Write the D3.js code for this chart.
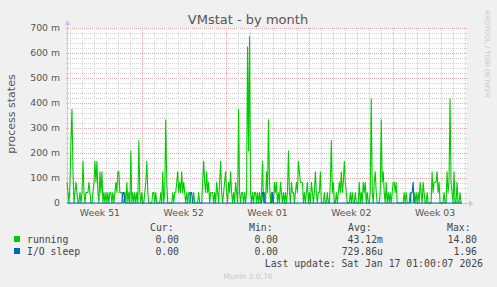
<!DOCTYPE html>
<html lang="en">
    <head>
        <meta charset="utf-8">
        <title>VMstat - by month</title>
        <script type="text/javascript" src="https://cdn.jsdelivr.net/npm/d3@7"></script>
        <style type="text/css">
            body { margin: 0; background: #f0f0f0; }
        </style>
    </head>

    <body>
        <script type="text/javascript">
            // values in milli-states (m), one point every 2 hours from Dec 15 18:00
            var running = [
                83,42,0,83,250,375,125,0,42,83,42,0,0,42,0,42,167,42,0,42,
                42,42,83,42,0,0,42,83,167,83,167,42,0,125,42,125,0,42,0,42,
                0,42,0,42,42,0,42,0,42,83,42,125,125,42,42,42,0,0,42,0,
                83,0,42,0,208,0,42,0,42,0,42,0,250,42,0,42,0,0,42,83,
                167,42,0,0,0,0,42,42,0,42,0,0,0,0,42,0,125,0,42,333,
                83,0,0,0,0,0,42,0,42,42,83,125,42,83,42,125,42,83,42,0,
                42,0,42,42,0,0,0,42,0,0,0,0,42,0,0,0,83,167,83,42,
                125,42,83,0,42,42,42,0,42,0,83,42,0,83,167,42,0,42,83,125,
                42,0,83,42,125,42,0,42,0,83,42,0,375,42,0,42,42,0,42,0,
                42,625,208,667,42,0,42,0,42,42,0,42,0,42,0,42,167,0,42,0,
                125,42,333,83,0,42,0,0,83,42,83,0,42,0,83,42,0,42,0,42,
                0,42,208,42,0,83,42,42,0,42,83,42,167,125,83,83,83,0,42,0,
                42,83,0,42,0,83,42,0,42,125,42,0,42,42,125,0,0,0,42,0,
                0,42,0,0,83,250,42,83,0,0,42,0,42,83,42,125,42,83,167,83,
                42,0,0,0,42,0,42,0,0,42,0,0,0,83,0,42,0,83,42,83,
                0,42,0,0,42,417,42,0,83,125,42,0,0,0,42,333,83,125,42,0,
                83,0,42,0,42,0,42,83,83,42,83,0,0,0,0,0,0,0,42,0,
                42,0,0,0,42,0,0,0,42,0,42,0,42,0,83,42,0,83,42,0,
                0,42,0,0,0,0,125,42,83,83,83,125,42,83,0,0,0,0,42,0,
                0,125,42,83,417,83,42,0,125,0,0,83,0,0,42,0,0
            ];
            var ioSleep = [
                0,0,0,0,0,0,0,0,0,0,0,0,0,0,0,0,0,0,0,0,
                0,0,0,0,0,0,0,0,0,0,0,0,0,0,0,0,0,0,0,0,
                0,0,0,0,0,0,0,0,0,0,0,0,0,0,0,0,42,42,0,0,
                0,0,0,0,0,0,0,0,0,0,0,0,0,0,0,0,0,0,0,0,
                0,0,0,0,0,0,0,0,0,0,0,0,0,0,0,0,0,0,0,0,
                0,0,0,0,0,0,0,0,0,0,0,0,0,0,0,0,0,0,0,0,
                0,0,0,0,42,42,0,0,0,0,0,0,0,0,0,0,0,0,0,0,
                0,0,0,0,0,0,0,0,0,0,0,0,0,0,0,0,0,0,0,0,
                0,0,0,0,0,0,0,0,0,0,0,0,0,0,0,0,0,0,0,0,
                0,0,0,0,0,0,0,0,0,0,0,0,0,0,0,0,42,42,0,0,
                0,0,0,0,0,0,42,0,0,0,0,0,0,0,0,0,0,0,0,0,
                0,0,0,0,0,0,0,0,0,0,0,0,0,0,0,0,0,0,0,0,
                0,0,0,0,0,0,0,0,0,0,0,0,0,0,0,0,0,0,0,0,
                0,0,0,0,0,0,0,0,0,0,0,0,0,0,0,0,0,0,0,0,
                0,0,0,0,0,0,0,0,0,0,0,0,0,0,0,0,0,0,0,0,
                0,0,0,0,0,0,0,0,0,0,0,0,0,0,0,0,0,0,0,0,
                0,0,0,0,0,0,0,0,0,0,0,0,0,0,0,0,0,0,0,0,
                0,0,0,0,0,42,42,83,0,0,0,0,0,0,0,0,0,0,0,0,
                0,0,0,0,0,0,0,0,0,0,0,0,0,0,0,0,0,0,0,0,
                0,0,0,0,0,0,0,0,0,0,0,0,0,0,0,0,0
            ];

            var seriesNames = ["running", "I/O sleep"];
            var seriesColors = ["#00cc00", "#0066b3"];
            var curValues = ["0.00", "0.00"];
            var minValues = ["0.00", "0.00"];
            var avgValues = ["43.12m", "729.86u"];
            var maxValues = ["14.80", "1.96"];
            var yTicks = [0, 100, 200, 300, 400, 500, 600, 700];

            var w = 497;
            var h = 287;
            // plot area edges
            var pLeft = 67, pRight = 467, pTop = 28, pBottom = 203;

            var start = new Date(2025, 11, 15, 18);
            var end = new Date(2026, 0, 18, 4);
            var step = 2 * 3600 * 1000;

            var xScale = d3.scaleTime()
                            .domain([start, end])
                            .range([pLeft, pRight]);

            var yScale = d3.scaleLinear()
                            .domain([0, 700])
                            .range([pBottom, pTop]);

            var svg = d3.select("body")
                        .append("svg")
                        .attr("width", w)
                        .attr("height", h);

            // dotted patterns for the grid (1px on, 1px off)
            var defs = svg.append("defs");
            [["minH", 2, 1, "#d2d2d2"], ["minV", 1, 2, "#d2d2d2"],
             ["majH", 2, 1, "#e6a8a8"], ["majV", 1, 2, "#e6a8a8"]].forEach(function(p) {
                var pat = defs.append("pattern")
                    .attr("id", p[0])
                    .attr("patternUnits", "userSpaceOnUse")
                    .attr("width", p[1])
                    .attr("height", p[2]);
                pat.append("rect")
                    .attr("width", 1)
                    .attr("height", 1)
                    .attr("fill", p[3]);
            });

            svg.append("rect")
                .attr("width", w)
                .attr("height", h)
                .attr("fill", "#f0f0f0");

            svg.append("rect")
                .attr("x", pLeft)
                .attr("y", pTop)
                .attr("width", pRight - pLeft)
                .attr("height", pBottom - pTop)
                .attr("fill", "#ffffff");

            var grid = svg.append("g").attr("shape-rendering", "crispEdges");

            // horizontal grid: minor every 20 m, major every 100 m
            grid.selectAll("rect.hgrid")
                .data(yScale.ticks(35).filter(function(d) { return d > 0; }))
                .enter()
                .append("rect")
                .attr("class", "hgrid")
                .attr("x", pLeft - 2)
                .attr("y", function(d) { return Math.round(yScale(d)); })
                .attr("width", pRight - pLeft + 2)
                .attr("height", 1)
                .attr("fill", function(d) { return d % 100 == 0 ? "url(#majH)" : "url(#minH)"; });

            // vertical grid: minor every day, major every monday
            var weeks = d3.timeMonday.range(start, end);
            var days = d3.timeDay.range(start, end);
            grid.selectAll("rect.vgrid")
                .data(days)
                .enter()
                .append("rect")
                .attr("class", "vgrid")
                .attr("x", function(d) { return Math.round(xScale(d)); })
                .attr("y", pTop)
                .attr("width", 1)
                .attr("height", pBottom - pTop + 3)
                .attr("fill", function(d) { return d.getDay() == 1 ? "url(#majV)" : "url(#minV)"; });

            // axes with arrows
            svg.append("line")
                .attr("x1", pLeft + 0.5).attr("x2", pLeft + 0.5)
                .attr("y1", pBottom).attr("y2", pTop - 4)
                .attr("stroke", "#c4ccee");
            svg.append("path")
                .attr("d", "M" + (pLeft - 2.5) + "," + (pTop - 3) + "L" + (pLeft + 0.5) + "," + (pTop - 8) + "L" + (pLeft + 3.5) + "," + (pTop - 3) + "Z")
                .attr("fill", "#c4ccee");
            svg.append("line")
                .attr("x1", pLeft).attr("x2", pRight + 4)
                .attr("y1", pBottom + 0.5).attr("y2", pBottom + 0.5)
                .attr("stroke", "#c4ccee");
            svg.append("path")
                .attr("d", "M" + (pRight + 2) + "," + (pBottom - 2.5) + "L" + (pRight + 7) + "," + (pBottom + 0.5) + "L" + (pRight + 2) + "," + (pBottom + 3.5) + "Z")
                .attr("fill", "#c4ccee");

            // data lines
            var line = d3.line()
                        .x(function(d, i) { return xScale(new Date(start.getTime() + i * step)); })
                        .y(function(d) { return yScale(d); });

            [running, ioSleep].forEach(function(series, k) {
                svg.append("path")
                    .attr("d", line(series))
                    .attr("fill", "none")
                    .attr("stroke", seriesColors[k])
                    .attr("stroke-width", 1.1)
                    .attr("stroke-linejoin", "round");
            });

            // tick labels
            svg.selectAll("text.ylab")
                .data(yTicks)
                .enter()
                .append("text")
                .attr("class", "ylab")
                .text(function(d) { return d == 0 ? "0" : d + " m"; })
                .attr("x", 60)
                .attr("y", function(d) { return yScale(d) + 3.3; })
                .attr("text-anchor", "end")
                .attr("font-family", "DejaVu Sans")
                .attr("font-size", "9.3px")
                .attr("fill", "#555");

            svg.selectAll("text.xlab")
                .data(weeks.map(function(d) { return d3.timeDay.offset(d, -7); }).concat([weeks[weeks.length - 1]]))
                .enter()
                .append("text")
                .attr("class", "xlab")
                .text(function(d) { return "Week " + d3.timeFormat("%V")(d); })
                .attr("x", function(d) { return xScale(new Date(d.getTime() + 3.5 * 86400000)); })
                .attr("y", 216)
                .attr("text-anchor", "middle")
                .attr("font-family", "DejaVu Sans")
                .attr("font-size", "9.3px")
                .attr("fill", "#555");

            svg.append("text")
                .text("VMstat - by month")
                .attr("x", 248)
                .attr("y", 24)
                .attr("text-anchor", "middle")
                .attr("font-family", "DejaVu Sans")
                .attr("font-size", "13px")
                .attr("fill", "#555");

            svg.append("text")
                .text("process states")
                .attr("transform", "translate(15,114) rotate(-90)")
                .attr("text-anchor", "middle")
                .attr("font-family", "DejaVu Sans")
                .attr("font-size", "11px")
                .attr("fill", "#555");

            svg.append("text")
                .text("RRDTOOL / TOBI OETIKER")
                .attr("transform", "translate(485,54) rotate(90)")
                .attr("text-anchor", "middle")
                .attr("font-family", "DejaVu Sans")
                .attr("font-size", "6.8px")
                .attr("fill", "#c8c8c8");

            // legend
            var mono = "DejaVu Sans Mono";
            var headers = [["Cur:", 150], ["Min:", 249], ["Avg:", 348], ["Max:", 447]];
            headers.forEach(function(hd) {
                svg.append("text")
                    .text(hd[0])
                    .attr("x", hd[1])
                    .attr("y", 231)
                    .attr("font-family", mono)
                    .attr("font-size", "9.8px")
                    .attr("fill", "#444");
            });

            seriesNames.forEach(function(name, k) {
                var y = 243 + k * 12;
                svg.append("rect")
                    .attr("x", 14).attr("y", y - 7)
                    .attr("width", 6).attr("height", 6)
                    .attr("fill", seriesColors[k]);
                svg.append("text")
                    .text(name)
                    .attr("x", 27)
                    .attr("y", y)
                    .attr("font-family", mono)
                    .attr("font-size", "9.8px")
                    .attr("fill", "#444");
                [[curValues, 179], [minValues, 278], [avgValues, 383], [maxValues, 477]].forEach(function(col) {
                    svg.append("text")
                        .text(col[0][k])
                        .attr("x", col[1])
                        .attr("y", y)
                        .attr("text-anchor", "end")
                        .attr("font-family", mono)
                        .attr("font-size", "9.8px")
                        .attr("fill", "#444");
                });
            });

            svg.append("text")
                .text("Last update: Sat Jan 17 01:00:07 2026")
                .attr("x", 483)
                .attr("y", 267)
                .attr("text-anchor", "end")
                .attr("font-family", mono)
                .attr("font-size", "9.8px")
                .attr("fill", "#444");

            svg.append("text")
                .text("Munin 2.0.76")
                .attr("x", 248)
                .attr("y", 279)
                .attr("text-anchor", "middle")
                .attr("font-family", "DejaVu Sans")
                .attr("font-size", "7.5px")
                .attr("fill", "#c8c8c8");
        </script>
    </body>
</html>
